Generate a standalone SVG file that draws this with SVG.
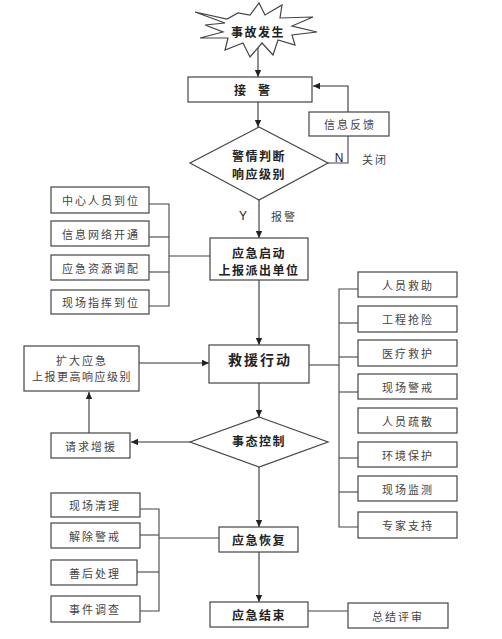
<svg xmlns="http://www.w3.org/2000/svg" width="502" height="639" viewBox="0 0 502 639">
<defs>
<marker id="ah" markerWidth="8" markerHeight="8" refX="7" refY="4" orient="auto" markerUnits="userSpaceOnUse">
<path d="M0,0.8 L7,4 L0,7.2 Z" fill="#222"/>
</marker>
<style>
.box{fill:#fff;stroke:#444;stroke-width:1.2}
.ln{fill:none;stroke:#444;stroke-width:1.1}
.ar{fill:none;stroke:#333;stroke-width:1.1;marker-end:url(#ah)}
.m{font-family:"Noto Sans CJK SC","Liberation Sans",sans-serif;font-size:12px;font-weight:bold;fill:#222;letter-spacing:1.5px;text-anchor:middle;dominant-baseline:central}
.s{font-family:"Noto Sans CJK SC","Liberation Sans",sans-serif;font-size:11px;fill:#444;letter-spacing:2px;text-anchor:middle;dominant-baseline:central}
.l{font-family:"Liberation Sans",Arial,sans-serif;font-size:12px;fill:#222;text-anchor:middle;dominant-baseline:central}
</style>
</defs>
<rect width="502" height="639" fill="#fff"/>

<g id="connectors">
<line class="ar" x1="258" y1="46" x2="258" y2="77"/>
<line class="ar" x1="258" y1="102" x2="258" y2="127"/>
<polyline class="ln" points="328,163 348,163 348,136"/>
<polyline class="ar" points="348,112 348,86 313,86"/>
<line class="ar" x1="259" y1="200" x2="259" y2="238"/>
<polyline class="ln" points="149,204 169,204 169,306 149,306"/>
<line class="ln" x1="149" y1="237" x2="169" y2="237"/>
<line class="ln" x1="149" y1="272" x2="169" y2="272"/>
<line class="ln" x1="169" y1="256" x2="210" y2="256"/>
<line class="ar" x1="259" y1="280" x2="259" y2="345"/>
<line class="ar" x1="139" y1="363" x2="209" y2="363"/>
<line class="ln" x1="309" y1="365" x2="339" y2="365"/>
<polyline class="ln" points="358,289 339,289 339,527 358,527"/>
<line class="ln" x1="339" y1="323" x2="358" y2="323"/>
<line class="ln" x1="339" y1="357" x2="358" y2="357"/>
<line class="ln" x1="339" y1="392" x2="358" y2="392"/>
<line class="ln" x1="339" y1="458" x2="358" y2="458"/>
<line class="ln" x1="339" y1="492" x2="358" y2="492"/>
<line class="ar" x1="259" y1="383" x2="259" y2="417"/>
<line class="ar" x1="190" y1="442" x2="131" y2="442"/>
<line class="ar" x1="89" y1="433" x2="89" y2="392"/>
<line class="ar" x1="259" y1="467" x2="259" y2="527"/>
<polyline class="ln" points="140,509 159,509 159,611 140,611"/>
<line class="ln" x1="140" y1="535" x2="159" y2="535"/>
<line class="ln" x1="137" y1="572" x2="159" y2="572"/>
<line class="ln" x1="159" y1="538" x2="219" y2="538"/>
<line class="ar" x1="259" y1="552" x2="259" y2="602"/>
<line class="ln" x1="308" y1="611" x2="348" y2="611"/>
<text class="l" x="339" y="158">N</text>
<text class="s" x="375" y="159">关闭</text>
<text class="l" x="243" y="216">Y</text>
<text class="s" x="284" y="216">报警</text>
</g>

<g id="n-start">
<polygon class="box" points="195,12 227,19 238,13 250,15 259,3 265,15 282,5 280,18 313,17 292,26 317,32 292,35 295,45 278,40 273,55 262,43 250,57 243,43 225,50 228,38 200,38 223,32 205,25 225,23"/>
<text class="m" x="258" y="31">事故发生</text>
</g>
<g id="n-jiejing">
<rect class="box" x="188" y="77" width="124" height="25"/>
<text class="m" x="258" y="89.5" style="letter-spacing:12px">接警</text>
</g>
<g id="n-feedback">
<rect class="box" x="309" y="112" width="80" height="24"/>
<text class="s" x="350" y="124">信息反馈</text>
</g>
<g id="n-judge">
<polygon class="box" points="259,127 328,163 259,200 190,163"/>
<text class="m" x="259" y="155">警情判断</text>
<text class="m" x="259" y="173">响应级别</text>
</g>
<g id="n-l1"><rect class="box" x="51" y="187" width="98" height="26"/><text class="s" x="101" y="200">中心人员到位</text></g>
<g id="n-l2"><rect class="box" x="51" y="221" width="98" height="25"/><text class="s" x="101" y="233.5">信息网络开通</text></g>
<g id="n-l3"><rect class="box" x="51" y="255" width="98" height="25"/><text class="s" x="101" y="267.5">应急资源调配</text></g>
<g id="n-l4"><rect class="box" x="51" y="290" width="98" height="24"/><text class="s" x="101" y="302">现场指挥到位</text></g>
<g id="n-start2">
<rect class="box" x="210" y="238" width="98" height="42"/>
<text class="m" x="259" y="252">应急启动</text>
<text class="m" x="259" y="269">上报派出单位</text>
</g>
<g id="n-expand">
<rect class="box" x="24" y="346" width="115" height="45"/>
<text class="s" x="82" y="360">扩大应急</text>
<text class="s" x="82" y="376" style="letter-spacing:1.5px">上报更高响应级别</text>
</g>
<g id="n-rescue">
<rect class="box" x="209" y="345" width="100" height="38"/>
<text class="m" x="260" y="359" style="font-size:14px;letter-spacing:2px">救援行动</text>
</g>
<g id="n-r1"><rect class="box" x="358" y="272" width="99" height="25"/><text class="s" x="408" y="284.5">人员救助</text></g>
<g id="n-r2"><rect class="box" x="358" y="306" width="99" height="26"/><text class="s" x="408" y="319">工程抢险</text></g>
<g id="n-r3"><rect class="box" x="358" y="340" width="99" height="26"/><text class="s" x="408" y="353">医疗救护</text></g>
<g id="n-r4"><rect class="box" x="358" y="374" width="99" height="25"/><text class="s" x="408" y="386.5">现场警戒</text></g>
<g id="n-r5"><rect class="box" x="358" y="408" width="99" height="25"/><text class="s" x="408" y="420.5">人员疏散</text></g>
<g id="n-r6"><rect class="box" x="358" y="442" width="99" height="25"/><text class="s" x="408" y="454.5">环境保护</text></g>
<g id="n-r7"><rect class="box" x="358" y="476" width="99" height="25"/><text class="s" x="408" y="488.5">现场监测</text></g>
<g id="n-r8"><rect class="box" x="358" y="512" width="99" height="26"/><text class="s" x="408" y="525">专家支持</text></g>
<g id="n-control">
<polygon class="box" points="259,417 328,442 259,467 190,442"/>
<text class="m" x="259" y="440">事态控制</text>
</g>
<g id="n-request">
<rect class="box" x="51" y="433" width="79" height="25"/>
<text class="s" x="91" y="445.5">请求增援</text>
</g>
<g id="n-b1"><rect class="box" x="51" y="493" width="89" height="24"/><text class="s" x="95" y="505">现场清理</text></g>
<g id="n-b2"><rect class="box" x="51" y="523" width="89" height="25"/><text class="s" x="95" y="535.5">解除警戒</text></g>
<g id="n-b3"><rect class="box" x="51" y="560" width="86" height="25"/><text class="s" x="95" y="572.5">善后处理</text></g>
<g id="n-b4"><rect class="box" x="51" y="596" width="89" height="26"/><text class="s" x="95" y="609">事件调查</text></g>
<g id="n-recover">
<rect class="box" x="219" y="527" width="79" height="25"/>
<text class="m" x="259" y="539.5">应急恢复</text>
</g>
<g id="n-end">
<rect class="box" x="210" y="602" width="98" height="25"/>
<text class="m" x="259" y="614.5">应急结束</text>
</g>
<g id="n-review">
<rect class="box" x="348" y="603" width="100" height="25"/>
<text class="s" x="398" y="615.5">总结评审</text>
</g>
</svg>
